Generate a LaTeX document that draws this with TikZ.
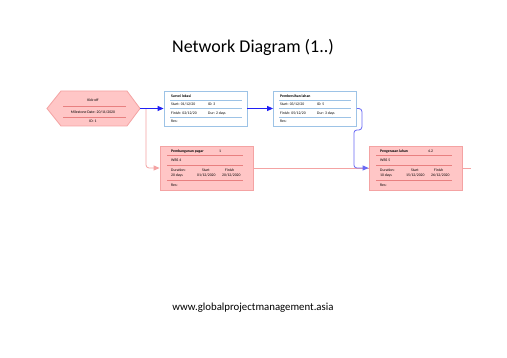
\documentclass[tikz,border=0pt]{standalone}
\usepackage{fontspec}
\setmainfont{Carlito}
\usepackage{tikz}
\usetikzlibrary{arrows.meta}
\definecolor{palette_rose}{HTML}{FFC6C6}
\definecolor{palette_rosef}{HTML}{F4A3A3}
\definecolor{palette_rouge}{HTML}{E88080}
\definecolor{palette_bleuc}{HTML}{9DC3E6}
\definecolor{palette_bleu}{HTML}{2020F5}
\definecolor{palette_violet}{HTML}{6A6AF5}

\begin{document}
\begin{tikzpicture}[x=1pt,y=-1pt,
    tiny/.style={font=\fontsize{3.8}{4.2}\selectfont, inner sep=0pt, anchor=west},
    tinyb/.style={tiny, font=\fontsize{3.8}{4.2}\selectfont\bfseries},
    bluebox/.style={draw=palette_bleuc, fill=white, line width=0.8pt, minimum width=83pt, minimum height=35pt, inner sep=0pt},
    pinkbox/.style={draw=palette_rosef, fill=palette_rose, line width=0.8pt, minimum width=93pt, minimum height=44pt, inner sep=0pt},
    bluesep/.style={draw=palette_bleuc, line width=0.6pt},
    pinksep/.style={draw=palette_rouge, line width=0.6pt},
    bluearrow/.style={draw=palette_bleu, line width=0.8pt, -{Triangle[length=6pt,width=5pt]}},
    violetarrow/.style={draw=palette_violet, line width=0.8pt, rounded corners=3pt, -{Triangle[length=6pt,width=5pt]}},
    pinkarrow/.style={draw=palette_rosef, line width=0.8pt, rounded corners=3pt, -{Triangle[length=6pt,width=5pt]}},
    pinkline/.style={draw=palette_rosef, line width=0.8pt}]

    \useasboundingbox[fill=white] (0,0) rectangle (507,358);

    % title and footer
    \node (title) at (253,47) {\fontsize{18}{21}\selectfont Network Diagram (1..)};
    \node (web) at (253,308) {\fontsize{10.8}{12}\selectfont www.globalprojectmanagement.asia};

    % kick-off milestone
    \filldraw[draw=palette_rosef, fill=palette_rose, line width=0.8pt] (47,108.5) -- (61,91) -- (127,91) -- (140,108.5) -- (127,126) -- (61,126) -- cycle;
    \coordinate (kickR) at (140,108.5);
    \coordinate (split) at (146,108.5);
    \draw[pinksep] (63,106) -- (126,106);
    \draw[pinksep] (63,117) -- (126,117);
    \node[tiny, anchor=center] (k1) at (93,100) {Kick-off};
    \node[tiny, anchor=center] (k2) at (93,112) {Milestone Date: 20/11/2020};
    \node[tiny, anchor=center] (k3) at (93,121.5) {ID: 1};

    % survei lokasi
    \node[bluebox] (survei) at (205.5,108.5) {};
    \draw[bluesep] (170,100) -- (242,100);
    \draw[bluesep] (170,108.5) -- (242,108.5);
    \draw[bluesep] (170,117) -- (242,117);
    \node[tinyb] (s1) at (171,96) {Survei lokasi};
    \node[tiny] (s2) at (171,104.5) {Start: 01/12/20};
    \node[tiny] (s3) at (208,104.5) {ID: 3};
    \node[tiny] (s4) at (171,113) {Finish: 02/12/20};
    \node[tiny] (s5) at (208,113) {Dur: 2 days};
    \node[tiny] (s6) at (171,121) {Res:};

    % pembersihan lahan
    \node[bluebox] (bersih) at (315,108.5) {};
    \draw[bluesep] (279,100) -- (351,100);
    \draw[bluesep] (279,108.5) -- (351,108.5);
    \draw[bluesep] (279,117) -- (351,117);
    \node[tinyb] (b1) at (280,96) {Pembersihan lahan};
    \node[tiny] (b2) at (280,104.5) {Start: 03/12/20};
    \node[tiny] (b3) at (317,104.5) {ID: 5};
    \node[tiny] (b4) at (280,113) {Finish: 05/12/20};
    \node[tiny] (b5) at (317,113) {Dur: 3 days};
    \node[tiny] (b6) at (280,121) {Res:};

    % pembangunan pagar
    \node[pinkbox] (pagar) at (206.5,168) {};
    \draw[pinksep] (167,155) -- (243,155);
    \draw[pinksep] (167,165) -- (243,165);
    \draw[pinksep] (167,180) -- (243,180);
    \node[tinyb] (p1) at (171,151) {Pembangunan pagar};
    \node[tiny] (p2) at (219,151) {1};
    \node[tiny] (p3) at (171,160.5) {WBS 4};
    \node[tiny] (p4) at (171,170) {Duration:};
    \node[tiny] (p5) at (202,170) {Start};
    \node[tiny] (p6) at (225,170) {Finish};
    \node[tiny] (p7) at (171,175) {20 days};
    \node[tiny] (p8) at (197,175) {01/12/2020};
    \node[tiny] (p9) at (222,175) {20/12/2020};
    \node[tiny] (p10) at (171,185) {Res:};

    % pengerasan lahan
    \node[pinkbox] (keras) at (415.5,168) {};
    \draw[pinksep] (376,155) -- (452,155);
    \draw[pinksep] (376,165) -- (452,165);
    \draw[pinksep] (376,180) -- (452,180);
    \node[tinyb] (g1) at (380,151) {Pengerasan lahan};
    \node[tiny] (g2) at (428,151) {4.2};
    \node[tiny] (g3) at (380,160.5) {WBS 5};
    \node[tiny] (g4) at (380,170) {Duration:};
    \node[tiny] (g5) at (411,170) {Start};
    \node[tiny] (g6) at (434,170) {Finish};
    \node[tiny] (g7) at (380,175) {10 days};
    \node[tiny] (g8) at (406,175) {15/12/2020};
    \node[tiny] (g9) at (431,175) {26/12/2020};
    \node[tiny] (g10) at (380,185) {Res:};
    \coordinate (sortie) at (471,168);

    % links
    \draw[pinkarrow] (split) |- (pagar.west);
    \draw[pinkline] (pagar.east) -- (keras.west);
    \draw[pinkline] (keras.east) -- (sortie);
    \draw[bluearrow] (kickR) -- (survei.west);
    \draw[bluearrow] (survei.east) -- (bersih.west);
    \draw[violetarrow] (bersih.east) -- ++(5,0) -- ++(0,21.5) -- ++(-8,0) |- (keras.west);

\end{tikzpicture}
\end{document}
